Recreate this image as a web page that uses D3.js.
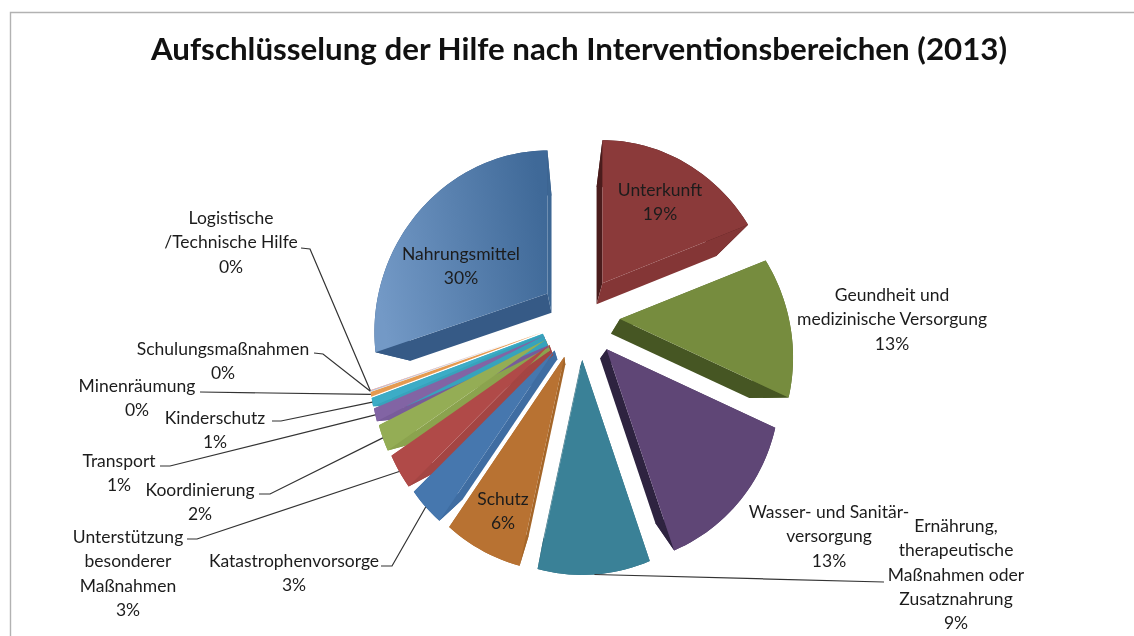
<!DOCTYPE html>
<html>
<head>
<meta charset="utf-8">
<script src="https://cdnjs.cloudflare.com/ajax/libs/d3/7.8.5/d3.min.js"></script>
<style>
    html, body {margin: 0; padding: 0; background: #fff;}
    svg {display: block; filter: blur(0.35px);}
    text {font-family: Lato, "Open Sans", sans-serif; fill: #1c1c1c;}
</style>
</head>
<body>
<svg id="chart" width="1134" height="636"></svg>
<script>
const titleText = "Aufschlüsselung der Hilfe nach Interventionsbereichen (2013)";

const categories = [
    ["Unterkunft"],
    ["Geundheit und", "medizinische Versorgung"],
    ["Wasser- und Sanitär-", "versorgung"],
    ["Ernährung,", "therapeutische", "Maßnahmen oder", "Zusatznahrung"],
    ["Schutz"],
    ["Katastrophenvorsorge"],
    ["Unterstützung", "besonderer", "Maßnahmen"],
    ["Koordinierung"],
    ["Transport"],
    ["Kinderschutz"],
    ["Minenräumung"],
    ["Schulungsmaßnahmen"],
    ["Logistische", "/Technische Hilfe"],
    ["Nahrungsmittel"]
];
const shares = [18.9, 13.0, 12.9, 8.5, 6.1, 3.0, 2.8, 2.2, 1.1, 0.7, 0.4, 0.05, 0.05, 30.2];

const topColors = ["#8b3a3a", "#768c3e", "#5f4676", "#3a8197", "#b87232", "#4677ae", "#b04a48",
    "#94ad55", "#8264a4", "#3cacc6", "#e59a50", "#7aa0d0", "#d07a78", "url(#navy)"];
const startWallColors = ["#4a1c1c", "#5c6e30", "#4a3660", "#2f6a7c", "#a56629", "#3f6da2", "#a44543",
    "#8ba34e", "#785c9a", "#37a3bc", "#d8924c", "#6a90c0", "#b86a68", "#365a86"];
const endWallColors = ["#843636", "#465623", "#2e2340", "#2f6a7c", "#a56629", "#3f6da2", "#a44543",
    "#8ba34e", "#785c9a", "#37a3bc", "#d8924c", "#6a90c0", "#b86a68", "#3d6794"];

// label centre x and first line y, same order as categories
const labelX = [660, 892, 829, 956, 503, 294, 128, 200, 119, 215, 137, 223, 231, 461];
const labelY = [190, 295, 512, 526, 499, 561, 537, 490, 461, 418, 386, 349, 218, 254];
const lineStep = 24.2;

// leader start next to the label, null when the label has no leader
const leaderFrom = [null, null, null, [884, 582], null, [381, 566], [187, 539], [259, 494], [160, 466],
    [272, 421], [200, 392], [314, 353], [301, 248], null];
const leaderElbow = [null, null, null, null, null, [392, 566], [197, 539], [270, 494], [170, 466],
    [281, 421], null, [323, 354], [310, 249], null];

const svg = d3.select("#chart");
const center = {x: 580, y: 318};
const explode = {x: 40, y: 42};
const vanish = {x: 570, y: 400};
const depth = 0.18;
const minWallShare = 0.5;

const defs = svg.append("defs");
const navy = defs.append("linearGradient").attr("id", "navy")
    .attr("x1", 0).attr("y1", 0.6).attr("x2", 1).attr("y2", 0.4);
navy.append("stop").attr("offset", 0).attr("stop-color", "#7399c6");
navy.append("stop").attr("offset", 1).attr("stop-color", "#3f6998");

// frame
svg.append("path").attr("d", d3.line()([[10.5, 636], [10.5, 12.5], [1134, 12.5]]))
    .attr("fill", "none").attr("stroke", "#b2b2b2").attr("stroke-width", 1.4);

svg.append("text")
    .attr("x", 579).attr("y", 60)
    .attr("text-anchor", "middle")
    .style("font-size", "31.3px").style("font-weight", 700).style("fill", "#111")
    .text(titleText);

let arcs = d3.pie().sort(null).value(d => d)(shares);

// rim radius seen from the tilted camera, longer towards the viewer
function rimRadius(a) {
    return 174 - 36 * Math.cos(a) + 5 * Math.cos(2 * a);
}

function tip(d) {
    let mid = (d.startAngle + d.endAngle) / 2;
    return [center.x + explode.x * Math.sin(mid), center.y - explode.y * Math.cos(mid)];
}

function rimPoint(d, a) {
    let t = tip(d), r = rimRadius(a);
    return [t[0] + r * Math.sin(a), t[1] - r * Math.cos(a)];
}

function rimPoints(d) {
    let n = Math.max(2, Math.ceil((d.endAngle - d.startAngle) / 0.03));
    return d3.range(n + 1).map(i => rimPoint(d, d.startAngle + (d.endAngle - d.startAngle) * i / n));
}

function sink(p) {
    return [p[0] + depth * (vanish.x - p[0]), p[1] + depth * (vanish.y - p[1])];
}

let closed = d3.line().curve(d3.curveLinearClosed);

// all walls first, the tops go over them so the thin wedges close up
let walls = svg.append("g").attr("class", "walls");
let tops = svg.append("g").attr("class", "tops");

arcs.forEach(function (d, i) {
    let t = tip(d), rim = rimPoints(d);
    let first = rim[0], last = rim[rim.length - 1];

    if (shares[i] >= minWallShare) {
        walls.append("path").attr("d", closed(rim.concat(rim.map(sink).reverse())))
            .attr("fill", startWallColors[i]);
        walls.append("path").attr("d", closed([t, first, sink(first), sink(t)]))
            .attr("fill", startWallColors[i]);
        walls.append("path").attr("d", closed([t, last, sink(last), sink(t)]))
            .attr("fill", endWallColors[i]);
    }
    tops.append("path").attr("d", closed([t].concat(rim)))
        .attr("fill", topColors[i]);
});

// leader lines run from the label to the middle of the slice rim
let leaders = svg.append("g").attr("class", "leaders");
let leaderLine = d3.line();
arcs.forEach(function (d, i) {
    if (!leaderFrom[i]) {
        return;
    }
    let mid = (d.startAngle + d.endAngle) / 2;
    let pts = [leaderFrom[i]];
    if (leaderElbow[i]) {
        pts.push(leaderElbow[i]);
    }
    pts.push(rimPoint(d, mid));
    leaders.append("path").attr("d", leaderLine(pts))
        .attr("fill", "none").attr("stroke", "#333").attr("stroke-width", 1.2);
});

let pct = d3.format(".0%");
let total = d3.sum(shares);
let labels = svg.append("g").attr("class", "labels");
categories.forEach(function (lines, i) {
    let t = labels.append("text")
        .attr("text-anchor", "middle")
        .attr("transform", "translate(" + labelX[i] + "," + labelY[i] + ")")
        .style("font-size", "17.5px");
    lines.concat([pct(shares[i] / total)]).forEach(function (line, j) {
        t.append("tspan")
            .attr("x", 0)
            .attr("y", j * lineStep)
            .attr("dy", "0.35em")
            .text(line);
    });
});
</script>
</body>
</html>
